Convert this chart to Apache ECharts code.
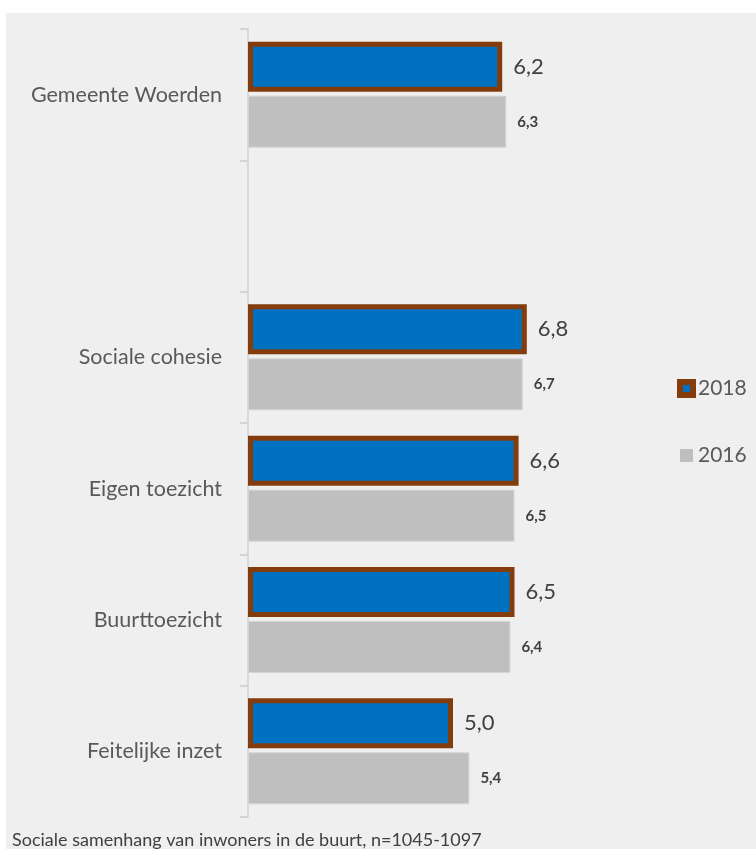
<!DOCTYPE html>
<html>
<head>
<meta charset="utf-8">
<script src="https://cdn.jsdelivr.net/npm/echarts@6/dist/echarts.min.js"></script>
<style>
  html, body { margin: 0; padding: 0; background: #ffffff; }
  #chart { width: 756px; height: 849px; }
</style>
</head>
<body>
<div id="chart"></div>
<script>
// categorieen (lege regel tussen gemeente en de thema's)
var categories = ['Gemeente Woerden', '', 'Sociale cohesie', 'Eigen toezicht', 'Buurttoezicht', 'Feitelijke inzet'];
var data2018 = [6.2, '-', 6.8, 6.6, 6.5, 5.0];
var data2016 = [6.3, '-', 6.7, 6.5, 6.4, 5.4];
var footnote = 'Sociale samenhang van inwoners in de buurt, n=1045-1097';

var myChart = echarts.init(document.getElementById('chart'));

function komma(p) {
    return p.value.toFixed(1).replace('.', ',');
}

var option = {
    backgroundColor: '#ffffff',
    animation: false,
    textStyle: { fontFamily: 'Lato' },
    graphic: [{
        type: 'rect',
        z: -10,
        shape: { x: 6, y: 13, width: 760, height: 850 },
        style: { fill: '#efefef' }
    }, {
        type: 'text',
        left: 12,
        top: 831,
        style: { text: footnote, fill: '#404040', font: '18px Lato' }
    }],
    legend: {
        orient: 'vertical',
        left: 672,
        top: 373,
        itemGap: 46,
        itemWidth: 13,
        itemHeight: 13,
        icon: 'rect',
        textStyle: { fontSize: 21, color: '#595959', fontFamily: 'Lato' },
        data: [{
            name: '2018',
            itemStyle: { color: '#0070c0', borderColor: '#843c0c', borderWidth: 6 }
        }, {
            name: '2016',
            itemStyle: { color: '#bfbfbf', borderWidth: 0 }
        }]
    },
    grid: { left: 248, top: 29, bottom: 32, width: 410 },
    xAxis: {
        type: 'value',
        min: 0,
        max: 10,
        show: false
    },
    yAxis: {
        type: 'category',
        inverse: true,
        data: categories,
        axisLine: { lineStyle: { color: '#d9d9d9', width: 2 } },
        axisTick: { show: true, length: 8, lineStyle: { color: '#d4d4d4', width: 2 } },
        axisLabel: { fontSize: 21.5, color: '#595959', margin: 26, fontFamily: 'Lato' }
    },
    series: [{
        name: '2018',
        type: 'bar',
        data: data2018,
        barWidth: 50,
        barGap: '8%',
        itemStyle: { color: '#0070c0', borderColor: '#843c0c', borderWidth: 5 },
        label: {
            show: true, position: 'right', distance: 11,
            fontSize: 22, color: '#404040', formatter: komma
        }
    }, {
        name: '2016',
        type: 'bar',
        data: data2016,
        barWidth: 52,
        itemStyle: { color: '#bfbfbf', borderColor: '#d4d4d4', borderWidth: 1 },
        label: {
            show: true, position: 'right', distance: 11,
            fontSize: 15, fontWeight: 'bold', color: '#404040', formatter: komma
        }
    }]
};

myChart.setOption(option);
</script>
</body>
</html>
